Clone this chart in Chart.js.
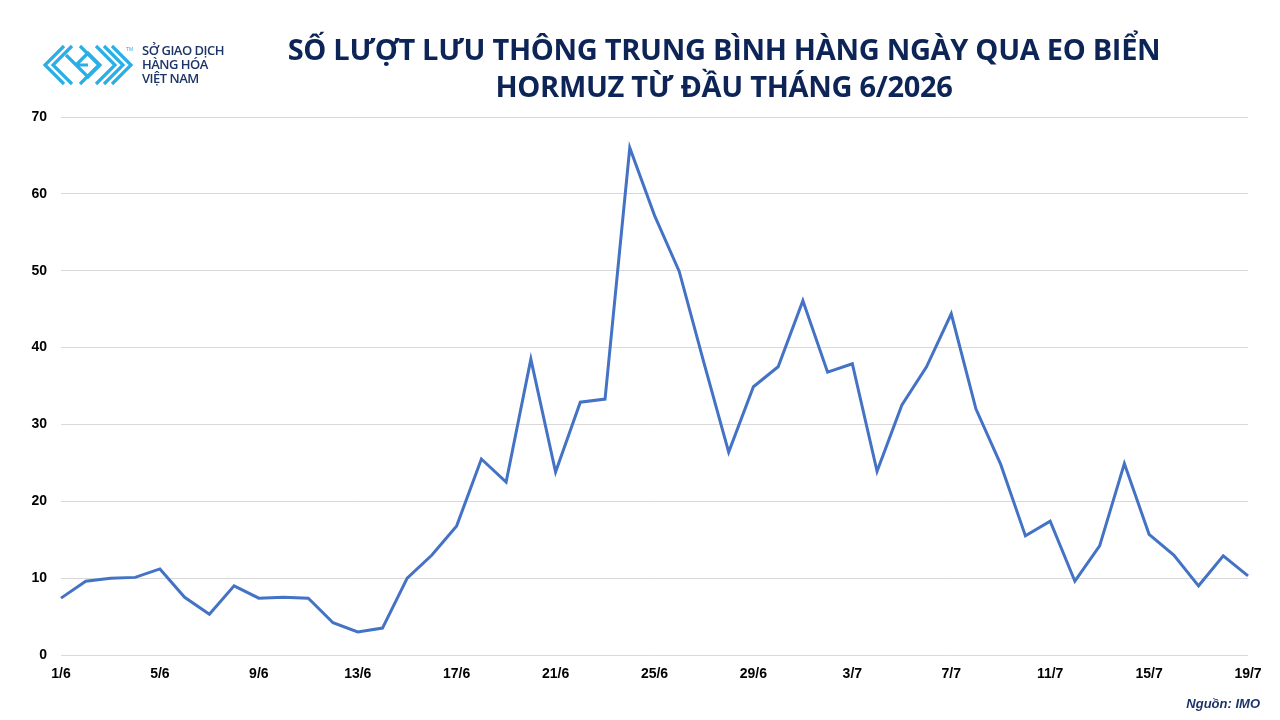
<!DOCTYPE html>
<html>
<head>
<meta charset="utf-8">
<script src="https://cdn.jsdelivr.net/npm/chart.js@4.4.1/dist/chart.umd.min.js"></script>
<style>
  body { margin: 0; background: #fff; }
  #wrap { position: relative; width: 1280px; height: 720px; overflow: hidden; }
  #myChart { position: absolute; left: 0; top: 0; }
  .title { position: absolute; left: 0; width: 1448px; text-align: center; top: 30px;
           font-family: 'Open Sans', sans-serif; font-weight: 700; font-size: 29px;
           line-height: 37px; color: #0d2457; letter-spacing: -0.3px; }
  .logo-text { position: absolute; left: 142px; top: 43px; font-family: 'Open Sans', sans-serif;
               font-weight: 600; font-size: 13px; line-height: 14px; color: #1d3468; letter-spacing: -0.5px; }
  .source { position: absolute; right: 20px; top: 696px; font-family: 'Liberation Sans', Arial, sans-serif;
            font-weight: 700; font-style: italic; font-size: 13px; color: #1d3468; }
</style>
</head>
<body>
<div id="wrap">
  <canvas id="myChart" width="1280" height="720"></canvas>
  <svg style="position:absolute;left:42px;top:43px" width="96" height="46" viewBox="0 0 96 46">
    <g fill="none" stroke="#2aaee6" stroke-width="3.2" stroke-linejoin="miter">
      <polyline points="22,3 3,22 22,41"/>
      <polyline points="30,3 11,22 30,41"/>
      <polyline points="24,12 34,22 46,10 58,22 46,34 34,22 46,22"/>
      <polyline points="38,3 57,22 38,41"/>
      <polyline points="54,3 73,22 54,41"/>
      <polyline points="62,3 81,22 62,41"/>
      <polyline points="70,3 89,22 70,41"/>
    </g>
    <text x="84" y="8" font-size="5" fill="#2aaee6" font-family="Liberation Sans">TM</text>
  </svg>
  <div class="logo-text">SỞ GIAO DỊCH<br>HÀNG HÓA<br>VIỆT NAM</div>
  <div class="title">SỐ LƯỢT LƯU THÔNG TRUNG BÌNH HÀNG NGÀY QUA EO BIỂN<br>HORMUZ TỪ ĐẦU THÁNG 6/2026</div>
  <div class="source">Nguồn: IMO</div>
</div>
<script>
var categories = [
  '1/6','2/6','3/6','4/6','5/6','6/6','7/6','8/6','9/6','10/6',
  '11/6','12/6','13/6','14/6','15/6','16/6','17/6','18/6','19/6','20/6',
  '21/6','22/6','23/6','24/6','25/6','26/6','27/6','28/6','29/6','30/6',
  '1/7','2/7','3/7','4/7','5/7','6/7','7/7','8/7','9/7','10/7',
  '11/7','12/7','13/7','14/7','15/7','16/7','17/7','18/7','19/7'];

var transits = [
  7.4, 9.6, 10.0, 10.1, 11.2, 7.5, 5.3, 9.0, 7.4, 7.5,
  7.4, 4.2, 3.0, 3.5, 10.0, 13.0, 16.8, 25.5, 22.5, 38.5,
  23.8, 32.9, 33.3, 66.0, 57.2, 49.9, 38.0, 26.4, 34.9, 37.5,
  46.1, 36.8, 37.9, 23.9, 32.5, 37.5, 44.4, 32.0, 24.8, 15.5,
  17.4, 9.6, 14.2, 24.9, 15.7, 13.0, 9.0, 12.9, 10.3];

var yTicks = [0, 10, 20, 30, 40, 50, 60, 70];

var ctx = document.getElementById('myChart').getContext('2d');

var chart = new Chart(ctx, {
    type: 'line',
    data: {
        labels: categories,
        datasets: [{
            label: 'Lượt lưu thông',
            data: transits,
            borderColor: '#4472c4',
            backgroundColor: '#4472c4',
            borderWidth: 3,
            tension: 0,
            fill: false,
            pointRadius: 0
        }]
    },
    options: {
        responsive: false,
        animation: false,
        layout: { padding: { top: 117, right: 32, bottom: 0, left: 0 } },
        plugins: {
            legend: { display: false },
            tooltip: { enabled: false }
        },
        scales: {
            x: {
                offset: false,
                grid: { display: false },
                border: { display: false },
                afterFit: function (scale) { scale.height = 65; },
                ticks: {
                    autoSkip: false,
                    maxRotation: 0,
                    padding: 3,
                    color: '#000',
                    font: { family: "'Liberation Sans', Arial, sans-serif", size: 14, weight: 'bold' },
                    callback: function (val, i) { return i % 4 === 0 ? categories[i] : ''; }
                }
            },
            y: {
                min: yTicks[0],
                max: yTicks[yTicks.length - 1],
                afterFit: function (scale) { scale.width = 61; },
                afterBuildTicks: function (scale) { scale.ticks = yTicks.map(function (v) { return { value: v }; }); },
                grid: { color: '#d9d9d9', lineWidth: 1, drawTicks: false },
                border: { display: false },
                ticks: {
                    padding: 14,
                    color: '#000',
                    font: { family: "'Liberation Sans', Arial, sans-serif", size: 14, weight: 'bold' }
                }
            }
        }
    }
});
</script>
</body>
</html>
